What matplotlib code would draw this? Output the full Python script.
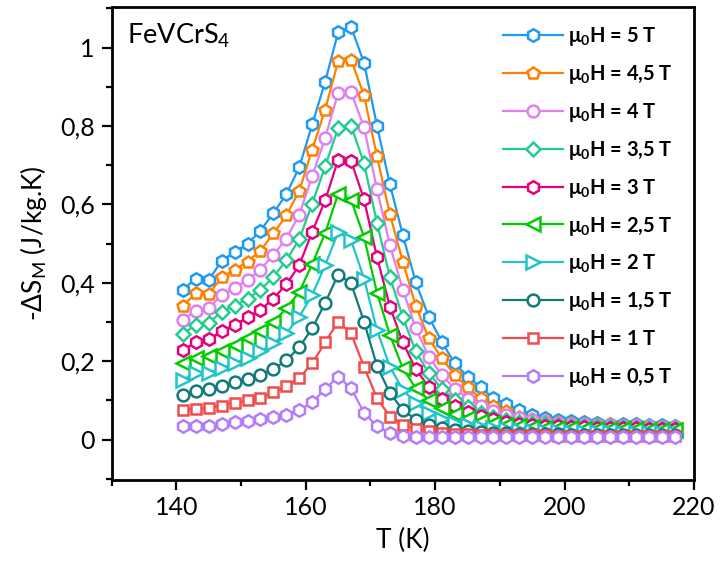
import matplotlib
matplotlib.use('Agg')
import matplotlib.pyplot as plt
from matplotlib.ticker import MultipleLocator, FuncFormatter
import numpy as np

plt.rcParams['font.family'] = ['Lato', 'DejaVu Sans']
plt.rcParams['mathtext.fontset'] = 'custom'
plt.rcParams['mathtext.rm'] = 'Lato'
plt.rcParams['mathtext.bf'] = 'Lato:bold'

# temperature grid (K)
T = np.arange(141, 218, 2)

# -dS_M values (J/kg.K), one list per field
s_5 = [0.382, 0.411, 0.407, 0.456, 0.479, 0.499, 0.533, 0.578, 0.626,
       0.695, 0.804, 0.913, 1.039, 1.053, 0.961, 0.801, 0.651,
       0.522, 0.401, 0.314, 0.250, 0.195, 0.161, 0.134, 0.106, 0.091, 0.076, 0.063, 0.055, 0.049,
       0.047, 0.045, 0.043, 0.041, 0.040, 0.039, 0.038, 0.037, 0.036]
s_45 = [0.341, 0.373, 0.371, 0.414, 0.434, 0.454, 0.482, 0.526, 0.572,
        0.635, 0.740, 0.842, 0.965, 0.969, 0.878, 0.723, 0.575,
        0.454, 0.341, 0.259, 0.208, 0.165, 0.134, 0.106, 0.086, 0.072, 0.059, 0.053, 0.048, 0.045,
        0.043, 0.041, 0.040, 0.039, 0.038, 0.037, 0.036, 0.035, 0.034]
s_4 = [0.305, 0.329, 0.335, 0.369, 0.388, 0.407, 0.434, 0.471, 0.513,
       0.574, 0.672, 0.770, 0.884, 0.886, 0.797, 0.639, 0.496,
       0.382, 0.284, 0.212, 0.165, 0.130, 0.105, 0.087, 0.073, 0.063, 0.055, 0.049, 0.045, 0.042,
       0.040, 0.039, 0.038, 0.037, 0.036, 0.035, 0.034, 0.033, 0.032]
s_35 = [0.269, 0.293, 0.298, 0.326, 0.341, 0.360, 0.382, 0.415, 0.458,
        0.511, 0.602, 0.697, 0.795, 0.801, 0.705, 0.553, 0.415,
        0.312, 0.225, 0.170, 0.130, 0.102, 0.083, 0.069, 0.059, 0.051, 0.046, 0.042, 0.039, 0.037,
        0.036, 0.035, 0.034, 0.033, 0.032, 0.031, 0.031, 0.030, 0.030]
s_3 = [0.229, 0.248, 0.256, 0.276, 0.293, 0.312, 0.331, 0.360, 0.396,
       0.445, 0.530, 0.610, 0.714, 0.711, 0.613, 0.466, 0.339,
       0.248, 0.180, 0.135, 0.105, 0.085, 0.070, 0.060, 0.052, 0.046, 0.041, 0.038, 0.036, 0.034,
       0.033, 0.032, 0.031, 0.030, 0.029, 0.029, 0.028, 0.028, 0.027]
s_25 = [0.195, 0.208, 0.214, 0.227, 0.242, 0.259, 0.276, 0.301, 0.335,
        0.377, 0.448, 0.527, 0.627, 0.612, 0.517, 0.375, 0.267,
        0.182, 0.131, 0.102, 0.080, 0.065, 0.055, 0.048, 0.042, 0.038, 0.035, 0.033, 0.031, 0.030,
        0.029, 0.028, 0.027, 0.027, 0.026, 0.026, 0.025, 0.025, 0.025]
s_2 = [0.153, 0.170, 0.171, 0.182, 0.195, 0.208, 0.225, 0.246, 0.271,
       0.314, 0.369, 0.445, 0.529, 0.509, 0.411, 0.280, 0.186,
       0.127, 0.093, 0.068, 0.053, 0.043, 0.037, 0.032, 0.029, 0.026, 0.024, 0.023, 0.022, 0.021,
       0.020, 0.020, 0.019, 0.019, 0.018, 0.018, 0.017, 0.017, 0.017]
s_15 = [0.114, 0.125, 0.129, 0.137, 0.146, 0.154, 0.165, 0.180, 0.202,
        0.236, 0.284, 0.349, 0.421, 0.399, 0.301, 0.188, 0.119,
        0.076, 0.051, 0.037, 0.029, 0.024, 0.021, 0.019, 0.017, 0.016, 0.015, 0.015, 0.014, 0.014,
        0.013, 0.013, 0.013, 0.012, 0.012, 0.012, 0.012, 0.012, 0.012]
s_1 = [0.076, 0.078, 0.081, 0.087, 0.093, 0.100, 0.106, 0.121, 0.136,
       0.157, 0.195, 0.248, 0.301, 0.271, 0.186, 0.106, 0.059,
       0.038, 0.027, 0.021, 0.017, 0.015, 0.014, 0.013, 0.012, 0.012, 0.011, 0.011, 0.011, 0.010,
       0.010, 0.010, 0.010, 0.010, 0.010, 0.010, 0.010, 0.010, 0.010]
s_05 = [0.034, 0.034, 0.036, 0.040, 0.044, 0.048, 0.053, 0.058, 0.064,
        0.076, 0.095, 0.129, 0.161, 0.131, 0.069, 0.034, 0.017,
        0.010, 0.008, 0.007, 0.007, 0.006, 0.006, 0.006, 0.006, 0.006, 0.006, 0.006, 0.006, 0.006,
        0.006, 0.006, 0.006, 0.006, 0.006, 0.006, 0.006, 0.006, 0.006]

fields = ['5', '4,5', '4', '3,5', '3', '2,5', '2', '1,5', '1', '0,5']
series = [s_5, s_45, s_4, s_35, s_3, s_25, s_2, s_15, s_1, s_05]
colors = ['#1e9bf0', '#ff8000', '#e17ff2', '#22cc8e', '#e6007e',
          '#00cc00', '#22c4c9', '#117a7a', '#f24b4b', '#b57cf8']
markers = ['h', 'p', 'o', 'D', 'h', '<', '>', 'o', 's', 'h']
msizes = [9, 9, 8.5, 7, 9, 9.5, 9.5, 8.5, 7.5, 9]

fig = plt.figure(figsize=(7.2, 5.65), dpi=100)
ax = fig.add_axes([0.155, 0.151, 0.809, 0.837])

for vals, f, c, m, ms in zip(series, fields, colors, markers, msizes):
    ax.plot(T, vals, color=c, lw=1.6, marker=m, ms=ms, mfc='white',
            mec=c, mew=1.8, label=r'μ$_\mathbf{0}$H = ' + f + ' T')

ax.set_xlim(130, 220)
ax.set_ylim(-0.102, 1.104)
ax.xaxis.set_major_locator(MultipleLocator(20))
ax.xaxis.set_minor_locator(MultipleLocator(10))
ax.yaxis.set_major_locator(MultipleLocator(0.2))
ax.yaxis.set_minor_locator(MultipleLocator(0.1))
ax.yaxis.set_major_formatter(FuncFormatter(lambda v, p: ('%g' % round(v, 2)).replace('.', ',')))

ax.tick_params(which='both', direction='out', width=1.6, labelsize=18, top=False, right=False)
ax.tick_params(which='major', length=7, pad=5)
ax.tick_params(which='minor', length=4)
for sp in ax.spines.values():
    sp.set_linewidth(2)

ax.set_xlabel('T (K)', fontsize=19, labelpad=6)
ax.set_ylabel(r'-ΔS$_\mathrm{M}$ (J/kg.K)', fontsize=19, labelpad=8)

ax.text(0.026, 0.968, r'FeVCrS$_4$', transform=ax.transAxes, fontsize=19.5,
        ha='left', va='top')

leg = ax.legend(loc='upper left', bbox_to_anchor=(503 / 720, 1 - 25 / 565),
                bbox_transform=fig.transFigure, frameon=False,
                prop={'weight': 'bold', 'size': 14.5}, handlelength=3.0,
                handletextpad=0.25, labelspacing=0.74, borderpad=0, borderaxespad=0)

fig.savefig('out.png', dpi=100)
